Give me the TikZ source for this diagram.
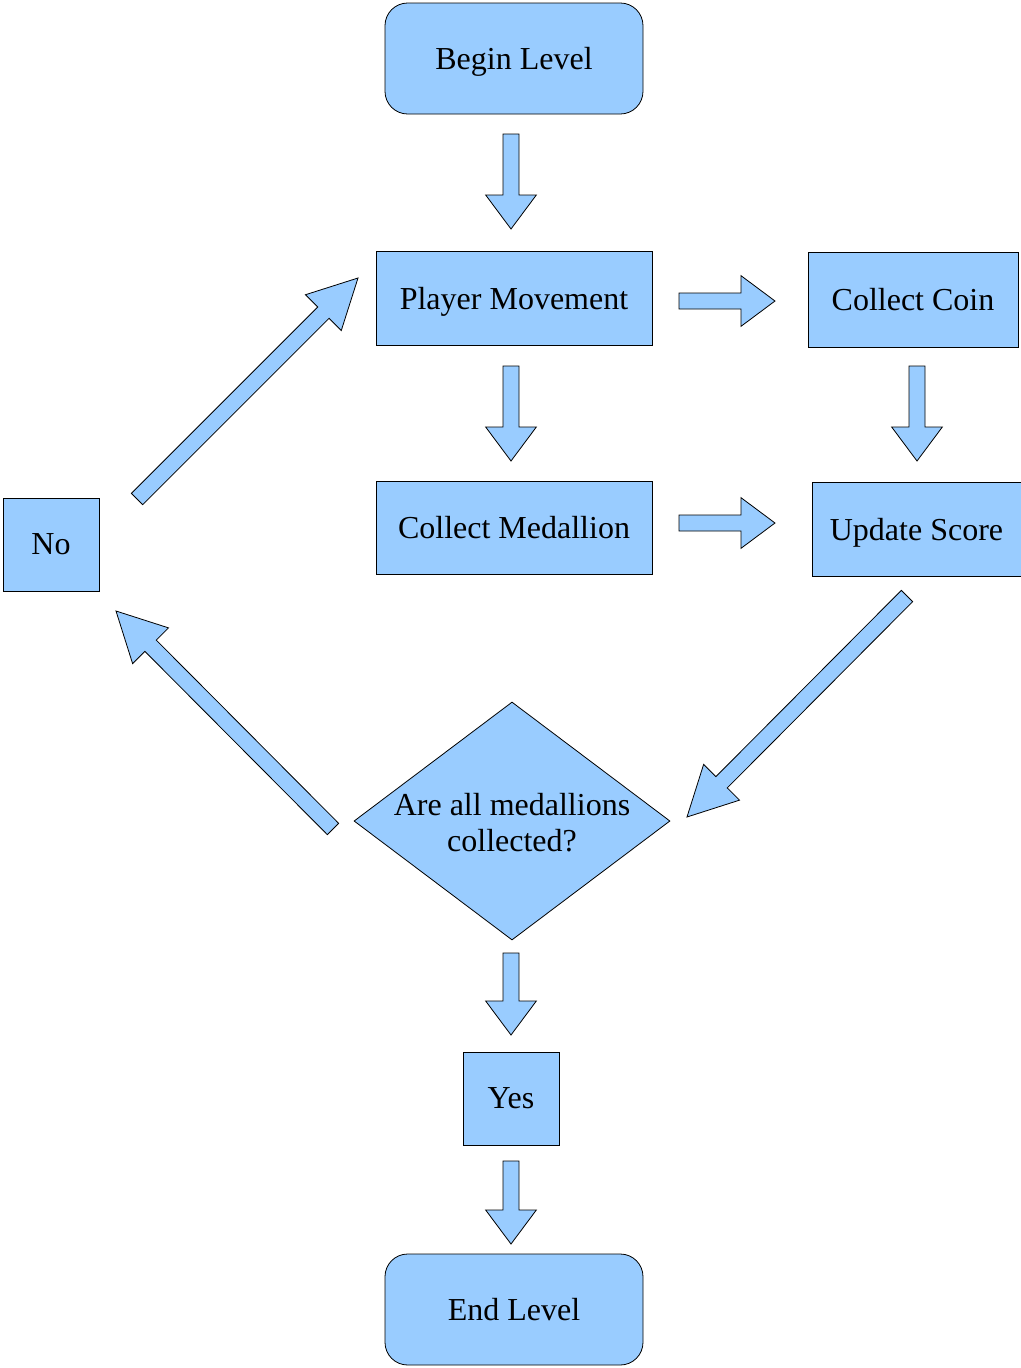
\documentclass[tikz,border=0pt]{standalone}
\usepackage{fontspec}
\setmainfont{Liberation Serif}
\usepackage{tikz}
\usetikzlibrary{calc, shapes.geometric}

\definecolor{boxblue}{HTML}{99CCFF}

% block arrow: [head length] {tail} {tip}
\newcommand{\blockarrow}[3][25.5pt]{%
  \coordinate (hb) at ($(#3)!#1!(#2)$);
  \filldraw[arrow body]
    ($(#2)!6pt!90:(#3)$) -- ($(hb)!6pt!-90:(#2)$) -- ($(hb)!19pt!-90:(#2)$)
    -- (#3) -- ($(hb)!19pt!90:(#2)$) -- ($(hb)!6pt!90:(#2)$)
    -- ($(#2)!6pt!-90:(#3)$) -- cycle;}

\begin{document}
\begin{tikzpicture}[x=0.75pt, y=-0.75pt,
  every node/.style={font=\fontsize{24}{27}\selectfont},
  box/.style={rectangle, draw, fill=boxblue, line width=0.6pt, inner sep=0pt, text depth=0pt},
  term/.style={box, rounded corners=17pt, minimum width=193.5pt, minimum height=83.25pt},
  arrow body/.style={fill=boxblue, draw=black, line width=0.6pt, line join=miter}]

\useasboundingbox (0,0) rectangle (1021,1368);

% boxes
\node[term] (begin) at (514,58.5) {Begin Level};
\node[box, minimum width=207pt, minimum height=70.5pt] (move) at (514,298) {Player Movement};
\node[box, minimum width=157.5pt, minimum height=71.25pt] (coin) at (913,299.5) {Collect Coin};
\node[box, minimum width=207pt, minimum height=69.75pt] (medal) at (514,527.5) {Collect Medallion};
\node[box, minimum width=156.75pt, minimum height=70.5pt] (score) at (916.5,529) {Update Score};
\node[diamond, draw, fill=boxblue, line width=0.6pt, inner sep=0pt,
  minimum width=237pt, minimum height=178.5pt,
  label={[align=center, yshift=-1pt]center:Are all medallions\\collected?}] (check) at (512,821) {};
\node[box, minimum width=72pt, minimum height=69.75pt] (no) at (51,544.5) {No};
\node[box, minimum width=72pt, minimum height=69.75pt] (yes) at (511,1098.5) {Yes};
\node[term] (end) at (514,1309.5) {End Level};

% arrow ends
\coordinate (a1) at (511,134);   \coordinate (b1) at (511,229);
\coordinate (a2) at (679,301);   \coordinate (b2) at (775,301);
\coordinate (a3) at (511,366);   \coordinate (b3) at (511,461);
\coordinate (a4) at (917,366);   \coordinate (b4) at (917,461);
\coordinate (a5) at (679,523);   \coordinate (b5) at (775,523);
\coordinate (a6) at (907,596);   \coordinate (b6) at (687,817);
\coordinate (a7) at (333,829);   \coordinate (b7) at (116,611);
\coordinate (a8) at (137,499);   \coordinate (b8) at (358,278);
\coordinate (a9) at (511,953);   \coordinate (b9) at (511,1035);
\coordinate (a10) at (511,1161); \coordinate (b10) at (511,1244);

\blockarrow{a1}{b1}
\blockarrow{a2}{b2}
\blockarrow{a3}{b3}
\blockarrow{a4}{b4}
\blockarrow{a5}{b5}
\blockarrow[36.75pt]{a6}{b6}
\blockarrow[36.75pt]{a7}{b7}
\blockarrow[36.75pt]{a8}{b8}
\blockarrow{a9}{b9}
\blockarrow{a10}{b10}
\end{tikzpicture}
\end{document}
